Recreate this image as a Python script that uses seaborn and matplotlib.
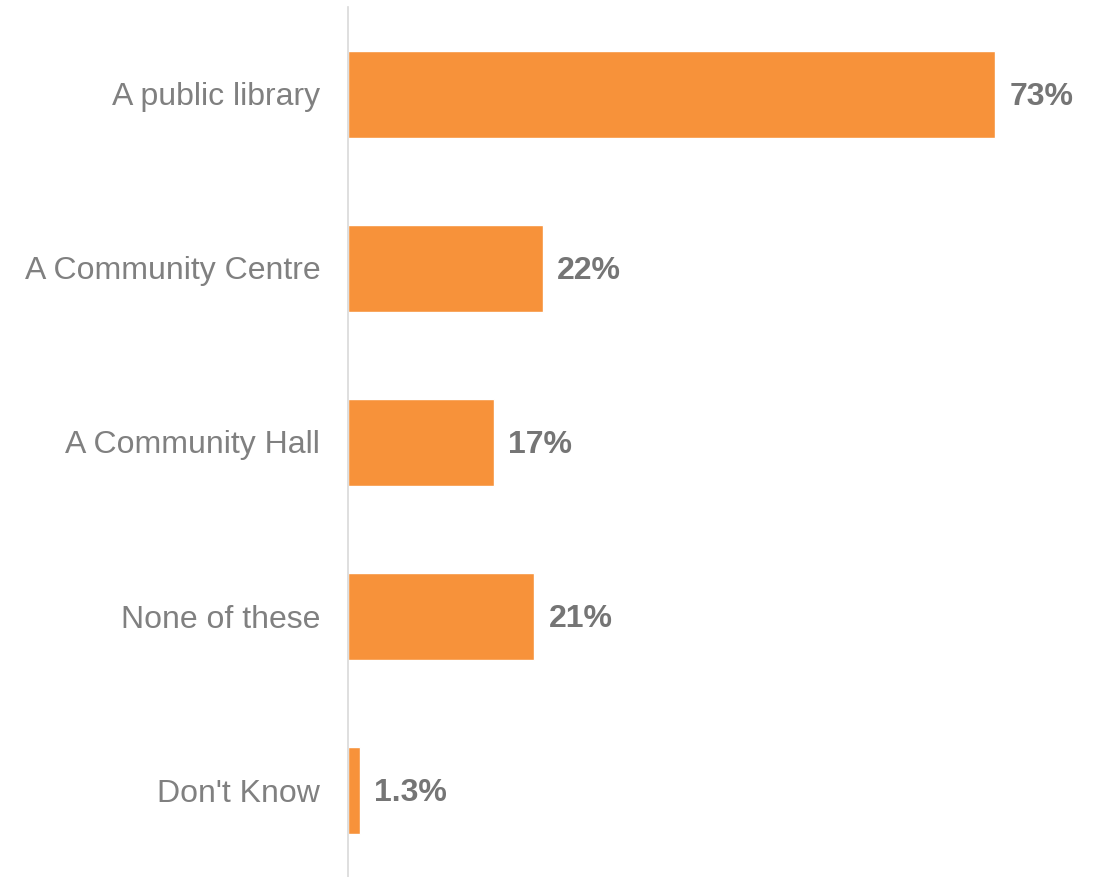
import matplotlib
matplotlib.use("Agg")
import matplotlib.pyplot as plt
import seaborn as sns
import pandas as pd

categories = ["A public library", "A Community Centre", "A Community Hall", "None of these", "Don't Know"]
values = [73, 22, 16.5, 21, 1.3]
value_labels = ["73%", "22%", "17%", "21%", "1.3%"]

sns.set_style("white")
plt.rcParams['font.family'] = ['Liberation Sans', 'DejaVu Sans']

df = pd.DataFrame({"category": categories, "value": values})

fig = plt.figure(figsize=(10.99, 8.77), dpi=100)
ax = fig.add_axes([348/1099, 0.0, 1 - 348/1099, 1 - 7/877])
sns.barplot(data=df, x="value", y="category", orient="h", color="#F7923A",
            saturation=1, width=0.5, ax=ax)
ax.set_xlim(0, 84.7)
ax.set_ylim(4.5, -0.5)
for i, (v, lab) in enumerate(zip(values, value_labels)):
    ax.text(v + 1.6, i + 0.015, lab, va="center", ha="left", fontsize=23,
            fontweight="bold", color="#757575")

ax.set_xlabel("")
ax.set_ylabel("")
ax.set_xticks([])
ax.tick_params(axis="y", length=0, pad=20, labelsize=23, labelcolor="#808080")
for s in ["top", "right", "bottom"]:
    ax.spines[s].set_visible(False)
ax.spines["left"].set_color("#D9D9D9")
ax.spines["left"].set_linewidth(1.2)

fig.savefig("out.png", dpi=100)
